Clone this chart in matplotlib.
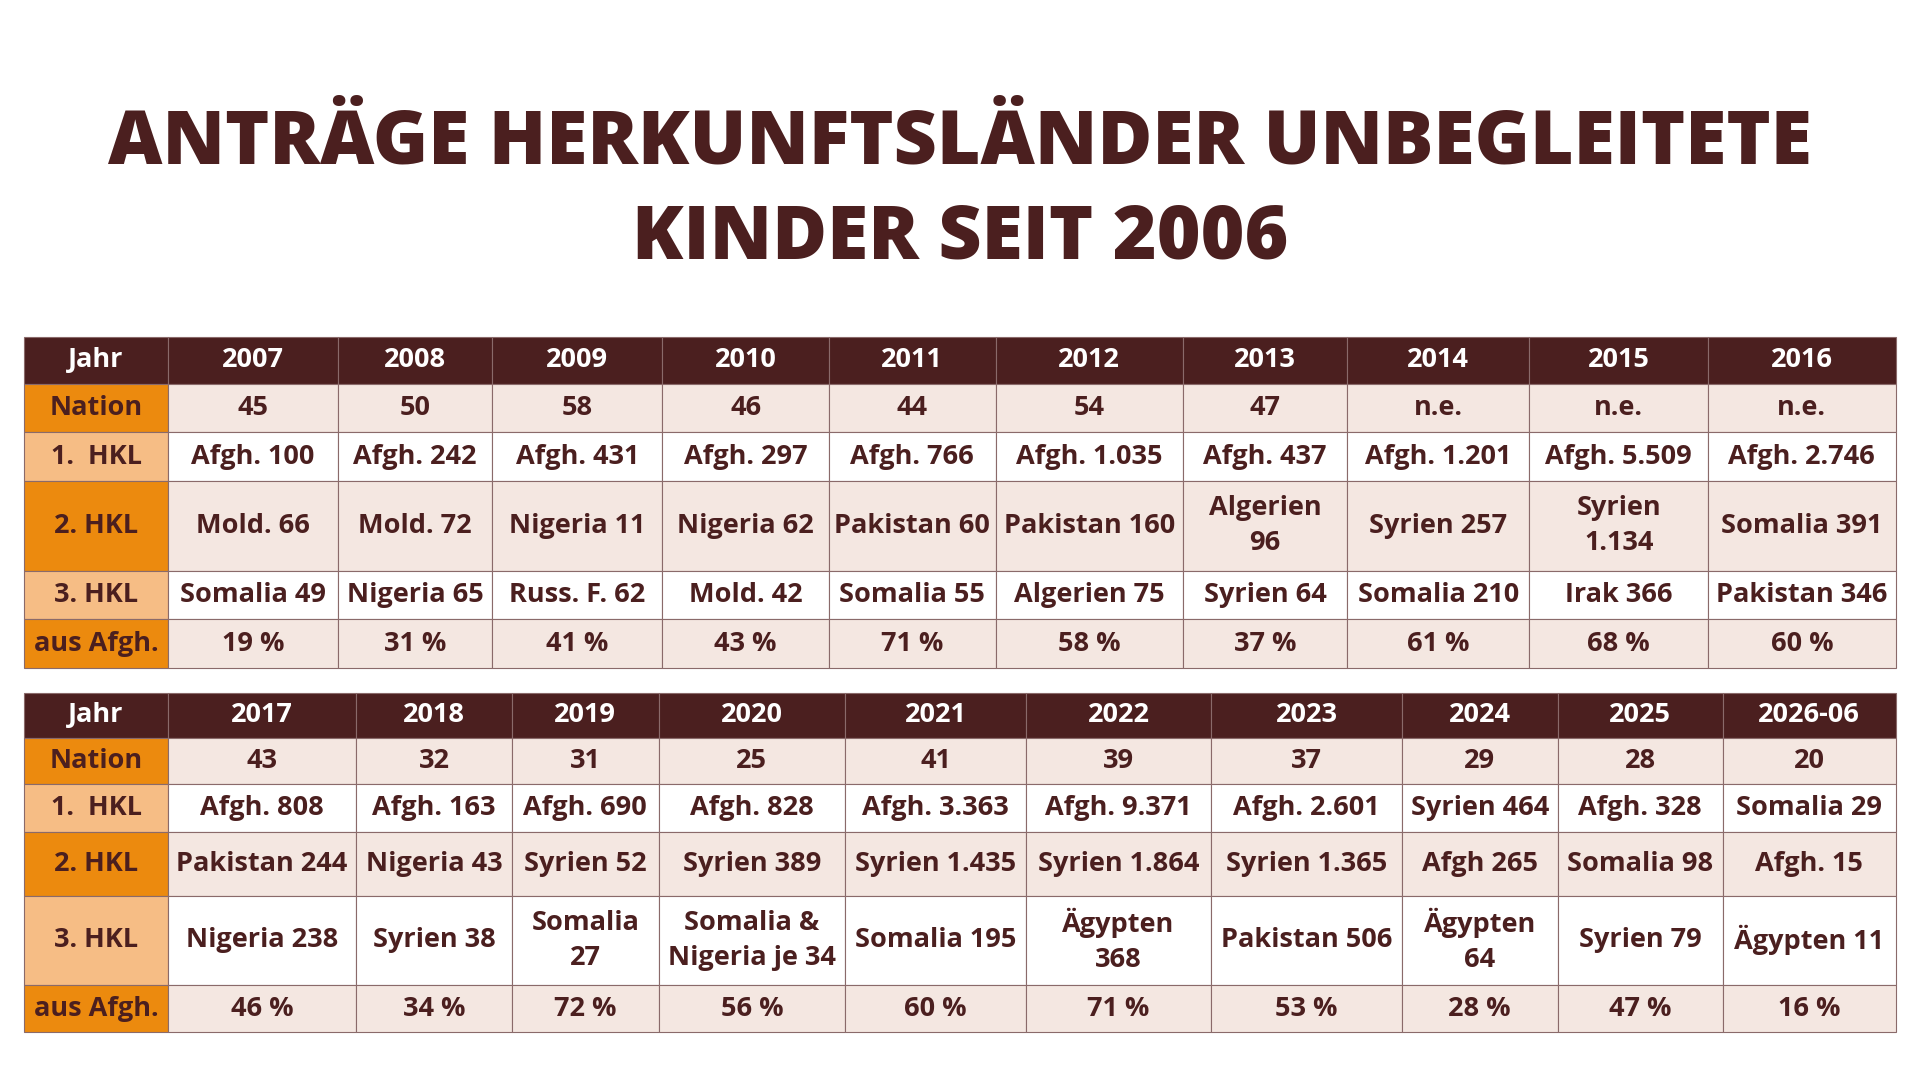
import matplotlib.pyplot as plt
from matplotlib.patches import Rectangle

title = "ANTRÄGE HERKUNFTSLÄNDER UNBEGLEITETE\nKINDER SEIT 2006"
row_labels = ["Jahr", "Nation", "1.  HKL", "2. HKL", "3. HKL", "aus Afgh."]

years_1 = ["2007", "2008", "2009", "2010", "2011", "2012", "2013", "2014", "2015", "2016"]
nation_1 = ["45", "50", "58", "46", "44", "54", "47", "n.e.", "n.e.", "n.e."]
hkl1_1 = ["Afgh. 100", "Afgh. 242", "Afgh. 431", "Afgh. 297", "Afgh. 766", "Afgh. 1.035",
          "Afgh. 437", "Afgh. 1.201", "Afgh. 5.509", "Afgh. 2.746"]
hkl2_1 = ["Mold. 66", "Mold. 72", "Nigeria 11", "Nigeria 62", "Pakistan 60", "Pakistan 160",
          "Algerien\n96", "Syrien 257", "Syrien\n1.134", "Somalia 391"]
hkl3_1 = ["Somalia 49", "Nigeria 65", "Russ. F. 62", "Mold. 42", "Somalia 55", "Algerien 75",
          "Syrien 64", "Somalia 210", "Irak 366", "Pakistan 346"]
afgh_1 = ["19 %", "31 %", "41 %", "43 %", "71 %", "58 %", "37 %", "61 %", "68 %", "60 %"]

years_2 = ["2017", "2018", "2019", "2020", "2021", "2022", "2023", "2024", "2025", "2026-06"]
nation_2 = ["43", "32", "31", "25", "41", "39", "37", "29", "28", "20"]
hkl1_2 = ["Afgh. 808", "Afgh. 163", "Afgh. 690", "Afgh. 828", "Afgh. 3.363", "Afgh. 9.371",
          "Afgh. 2.601", "Syrien 464", "Afgh. 328", "Somalia 29"]
hkl2_2 = ["Pakistan 244", "Nigeria 43", "Syrien 52", "Syrien 389", "Syrien 1.435", "Syrien 1.864",
          "Syrien 1.365", "Afgh 265", "Somalia 98", "Afgh. 15"]
hkl3_2 = ["Nigeria 238", "Syrien 38", "Somalia\n27", "Somalia &\nNigeria je 34", "Somalia 195",
          "Ägypten\n368", "Pakistan 506", "Ägypten\n64", "Syrien 79", "Ägypten 11"]
afgh_2 = ["46 %", "34 %", "72 %", "56 %", "60 %", "71 %", "53 %", "28 %", "47 %", "16 %"]

# layout in reference pixel coords (1568 x 884)
cols_1 = [20, 137, 276, 402, 541, 677, 813, 966, 1100, 1249, 1395, 1548]
rows_1 = [276, 314, 354, 394, 467, 507, 547]
cols_2 = [20, 137, 291, 418, 538, 690, 838, 989, 1145, 1272, 1407, 1548]
rows_2 = [567, 604, 642, 681, 733, 806, 845]

DARK = "#4b1f1f"
ORANGE = "#ec8a0e"
LIGHT_OR = "#f6bd85"
PINK = "#f4e7e1"
label_bg = [DARK, ORANGE, LIGHT_OR, ORANGE, LIGHT_OR, ORANGE]
cell_bg = [DARK, PINK, "white", PINK, "white", PINK]

FONT = "Open Sans"

fig = plt.figure(figsize=(19.2, 10.8), dpi=100)
ax = fig.add_axes([0, 0, 1, 1])
ax.set_xlim(0, 1568)
ax.set_ylim(884, 0)
ax.axis("off")

ax.text(784, 157, title, ha="center", va="center", fontsize=54, fontweight="heavy",
        color=DARK, family=FONT, linespacing=1.35)


def draw_table(cols, rows, data):
    for r in range(len(rows) - 1):
        y0, y1 = rows[r], rows[r + 1]
        for c in range(len(cols) - 1):
            x0, x1 = cols[c], cols[c + 1]
            if c == 0:
                bg, txt = label_bg[r], row_labels[r]
            else:
                bg, txt = cell_bg[r], data[r][c - 1]
            ax.add_patch(Rectangle((x0, y0), x1 - x0, y1 - y0, facecolor=bg,
                                   edgecolor="#8a6a6a", linewidth=0.8))
            color = "white" if r == 0 else DARK
            ax.text((x0 + x1) / 2, (y0 + y1) / 2, txt, ha="center", va="center",
                    fontsize=19.5, fontweight="bold", color=color, family=FONT,
                    linespacing=1.45)


draw_table(cols_1, rows_1, [years_1, nation_1, hkl1_1, hkl2_1, hkl3_1, afgh_1])
draw_table(cols_2, rows_2, [years_2, nation_2, hkl1_2, hkl2_2, hkl3_2, afgh_2])

fig.savefig("out.png", dpi=100, facecolor="white")
